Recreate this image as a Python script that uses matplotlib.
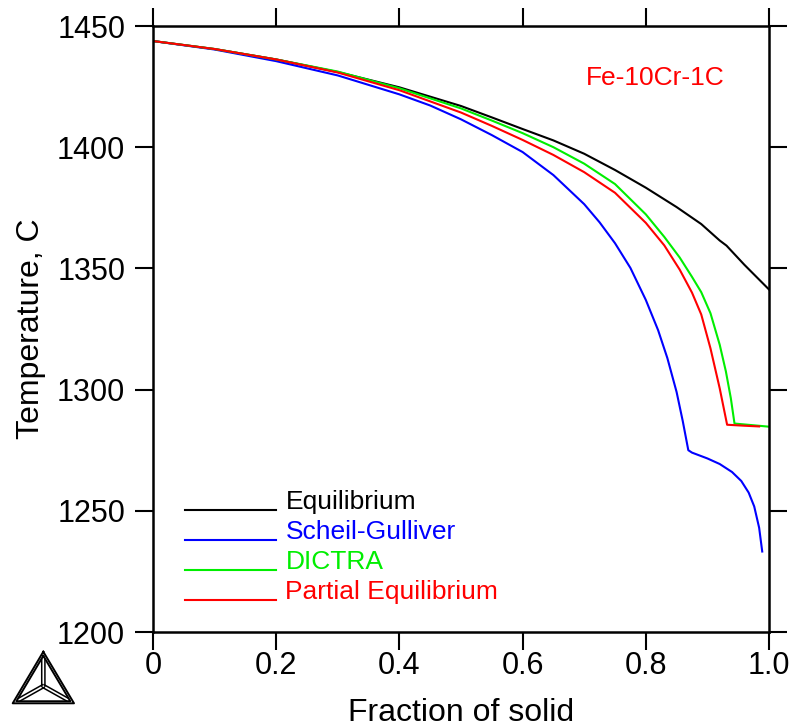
import numpy as np
import matplotlib
matplotlib.use("Agg")
import matplotlib.pyplot as plt
from matplotlib.lines import Line2D

plt.rcParams['font.family'] = ['Liberation Sans', 'DejaVu Sans']

# ---- donnees ----
eq_x = [0.0, 0.1, 0.2, 0.3, 0.4, 0.5, 0.55, 0.6, 0.65, 0.7, 0.75, 0.8, 0.85, 0.89, 0.92, 0.931, 0.96, 1.0]
eq_t = [1443.8, 1440.5, 1436.2, 1431.0, 1424.7, 1417.0, 1412.3, 1407.5, 1402.8, 1397.3, 1390.6, 1383.3,
        1375.3, 1368.3, 1361.5, 1359.4, 1351.5, 1341.3]

scheil_x = [0.0, 0.1, 0.2, 0.3, 0.4, 0.45, 0.5, 0.55, 0.6, 0.65, 0.7, 0.725, 0.75, 0.775, 0.8, 0.82,
            0.835, 0.85, 0.86, 0.869, 0.875, 0.9, 0.92, 0.94, 0.955, 0.967, 0.976, 0.984, 0.989]
scheil_t = [1443.8, 1440.3, 1435.5, 1429.6, 1421.8, 1417.2, 1411.5, 1405.0, 1398.0, 1388.5, 1376.5, 1369.0,
            1360.4, 1350.2, 1337.0, 1324.5, 1313.0, 1299.0, 1287.0, 1275.0, 1274.0, 1271.6, 1269.3,
            1266.0, 1262.3, 1257.5, 1251.8, 1243.0, 1233.2]

dictra_x = [0.0, 0.1, 0.2, 0.3, 0.4, 0.5, 0.55, 0.6, 0.65, 0.7, 0.75, 0.8, 0.83, 0.855, 0.875, 0.89,
            0.905, 0.92, 0.93, 0.938, 0.944, 1.0]
dictra_t = [1443.8, 1440.5, 1436.2, 1431.2, 1424.3, 1416.0, 1411.0, 1405.8, 1400.0, 1393.2, 1384.8, 1372.3,
            1363.0, 1354.5, 1346.5, 1340.2, 1331.5, 1318.5, 1307.5, 1296.5, 1286.0, 1284.7]

partial_x = [0.0, 0.1, 0.2, 0.3, 0.4, 0.5, 0.55, 0.6, 0.65, 0.7, 0.75, 0.8, 0.83, 0.855, 0.875, 0.89,
             0.905, 0.92, 0.932, 0.96, 0.984]
partial_t = [1443.8, 1440.5, 1436.2, 1430.8, 1423.5, 1414.3, 1408.8, 1403.0, 1396.8, 1389.7, 1381.2, 1368.8,
             1359.5, 1349.5, 1340.0, 1331.0, 1317.0, 1300.5, 1285.5, 1285.1, 1284.8]

labels = ["Equilibrium", "Scheil-Gulliver", "DICTRA", "Partial Equilibrium"]
colors = ["black", "#0000ff", "#00ee00", "#ff0000"]

x_ticks = [0, 0.2, 0.4, 0.6, 0.8, 1.0]
x_ticklabels = ["0", "0.2", "0.4", "0.6", "0.8", "1.0"]
y_ticks = [1200, 1250, 1300, 1350, 1400, 1450]

W, H = 795, 728

fig = plt.figure(figsize=(W / 100, H / 100), dpi=100)
ax = fig.add_axes([153 / W, 1 - 632 / H, 616 / W, 606 / H])

series = [(eq_x, eq_t), (scheil_x, scheil_t), (dictra_x, dictra_t), (partial_x, partial_t)]
for (xs, ts), c in zip(series, colors):
    ax.plot(xs, ts, color=c, linewidth=1.5)

ax.set_xlim(0, 1.0)
ax.set_ylim(1200, 1450)
ax.set_xticks(x_ticks)
ax.set_xticklabels(x_ticklabels)
ax.set_yticks(y_ticks)
ax.tick_params(direction='out', length=13, width=1.5, labelsize=22,
               top=True, right=True, pad=1)
ax.tick_params(axis='y', pad=7)
for s in ax.spines.values():
    s.set_linewidth(1.8)

ax.set_xlabel("Fraction of solid", fontsize=23, labelpad=12)
ax.set_ylabel("Temperature, C", fontsize=23, labelpad=8)

# legende dessinee a la main (style Thermo-Calc)
leg_y = [1253.6, 1241.2, 1228.8, 1216.5]
for lab, c, yy in zip(labels, colors, leg_y):
    ax.plot([0.052, 0.2], [yy - 3.4, yy - 3.4], color=c, linewidth=1.5)
    ax.text(0.215, yy, lab, color=c, fontsize=19, va='center', ha='left')

ax.text(0.816, 1428.5, "Fe-10Cr-1C", color="#ff0000", fontsize=19, ha='center', va='center')

# logo triangle en bas a gauche
def fpt(px, py):
    return px / W, 1 - py / H

A = np.array([43.3, 651.7]); B = np.array([12.7, 703.3]); C = np.array([74.0, 703.3])
G = (A + B + C) / 3
for k in [1.0, 0.88]:
    pts = [G + k * (P - G) for P in (A, B, C, A)]
    xs, ys = zip(*[fpt(*p) for p in pts])
    fig.add_artist(Line2D(xs, ys, color='black', linewidth=1.4))
inner = [G + 0.78 * (P - G) for P in (A, B, C)]
for P in inner:
    d = P - G
    n = np.array([-d[1], d[0]]) / np.hypot(*d) * 1.6
    for off in (n, -n):
        p0 = G + off
        p1 = P + off
        xs, ys = zip(fpt(*p0), fpt(*p1))
        fig.add_artist(Line2D(xs, ys, color='black', linewidth=1.1))

fig.savefig("out.png", dpi=100)
